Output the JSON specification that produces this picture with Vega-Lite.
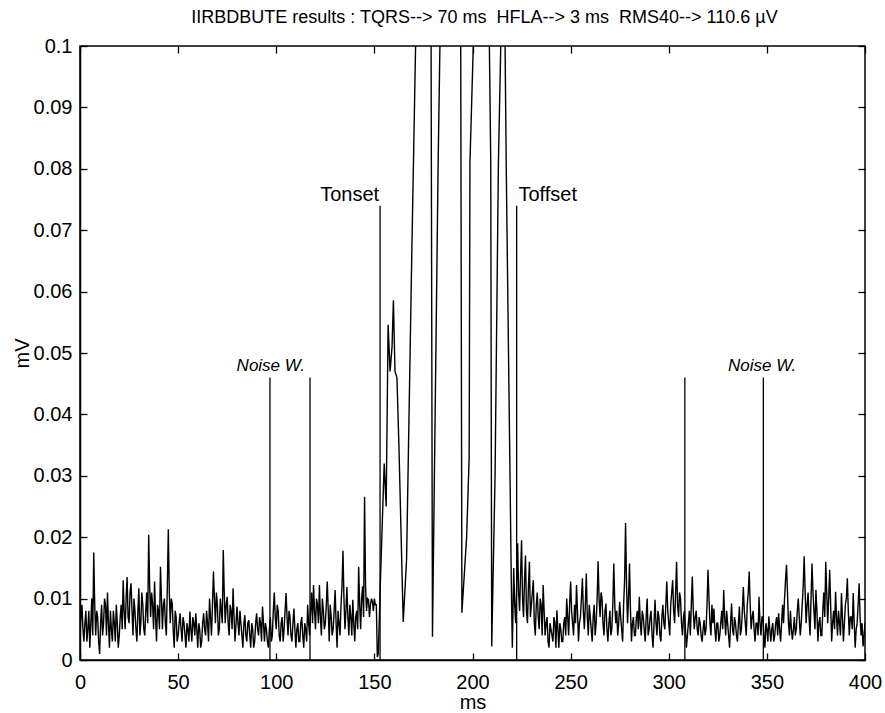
{
  "$schema": "https://vega.github.io/schema/vega-lite/v6.json",
  "width": 785,
  "height": 614,
  "autosize": "none",
  "padding": {"left": 80, "top": 46, "right": 20, "bottom": 53},
  "background": "white",
  "config": {
    "font": "Liberation Sans",
    "view": {"stroke": "black", "strokeWidth": 1.5},
    "axis": {
      "domainColor": "black", "domainWidth": 1.5, "tickColor": "black", "tickWidth": 1.3,
      "grid": false, "labelColor": "black", "labelFontSize": 20,
      "labelFont": "Liberation Sans", "titleFont": "Liberation Sans", "titleFontSize": 20,
      "titleFontWeight": "normal", "titleColor": "black"
    }
  },
  "title": {
    "text": "IIRBDBUTE results : TQRS--> 70 ms \u00a0HFLA--> 3 ms \u00a0RMS40--> 110.6 µV",
    "fontSize": 18, "fontWeight": "normal", "font": "Liberation Sans", "color": "black",
    "anchor": "middle", "offset": 9, "dx": 12
  },
  "datasets": {
    "signal": [
      {"t":0,"v":0.004},{"t":1,"v":0.009},{"t":2,"v":0.003},{"t":3,"v":0.008},{"t":4,"v":0.005},{"t":5,"v":0.002},{"t":6,"v":0.010},{"t":7,"v":0.0175},{"t":8,"v":0.004},{"t":9,"v":0.007},
      {"t":10,"v":0.001},{"t":11,"v":0.009},{"t":12,"v":0.006},{"t":13,"v":0.009},{"t":14,"v":0.011},{"t":15,"v":0.002},{"t":16,"v":0.005},{"t":17,"v":0.008},{"t":18,"v":0.003},{"t":19,"v":0.006},
      {"t":20,"v":0.004},{"t":21,"v":0.009},{"t":22,"v":0.013},{"t":23,"v":0.005},{"t":24,"v":0.0135},{"t":25,"v":0.006},{"t":26,"v":0.0125},{"t":27,"v":0.004},{"t":28,"v":0.008},{"t":29,"v":0.003},
      {"t":30,"v":0.0117},{"t":31,"v":0.006},{"t":32,"v":0.009},{"t":33,"v":0.004},{"t":34,"v":0.011},{"t":35,"v":0.0204},{"t":36,"v":0.007},{"t":37,"v":0.009},{"t":38,"v":0.0128},{"t":39,"v":0.003},
      {"t":40,"v":0.008},{"t":41,"v":0.0152},{"t":42,"v":0.005},{"t":43,"v":0.010},{"t":44,"v":0.004},{"t":45,"v":0.0213},{"t":46,"v":0.006},{"t":47,"v":0.0092},{"t":48,"v":0.002},{"t":49,"v":0.007},
      {"t":50,"v":0.004},{"t":51,"v":0.0076},{"t":52,"v":0.003},{"t":53,"v":0.006},{"t":54,"v":0.002},{"t":55,"v":0.005},{"t":56,"v":0.0079},{"t":57,"v":0.003},{"t":58,"v":0.006},{"t":59,"v":0.0076},
      {"t":60,"v":0.002},{"t":61,"v":0.005},{"t":62,"v":0.003},{"t":63,"v":0.0076},{"t":64,"v":0.004},{"t":65,"v":0.006},{"t":66,"v":0.010},{"t":67,"v":0.004},{"t":68,"v":0.0144},{"t":69,"v":0.006},
      {"t":70,"v":0.009},{"t":71,"v":0.005},{"t":72,"v":0.008},{"t":73,"v":0.0179},{"t":74,"v":0.006},{"t":75,"v":0.0103},{"t":76,"v":0.004},{"t":77,"v":0.008},{"t":78,"v":0.0117},{"t":79,"v":0.003},
      {"t":80,"v":0.0087},{"t":81,"v":0.004},{"t":82,"v":0.006},{"t":83,"v":0.002},{"t":84,"v":0.0073},{"t":85,"v":0.003},{"t":86,"v":0.0065},{"t":87,"v":0.002},{"t":88,"v":0.005},{"t":89,"v":0.003},
      {"t":90,"v":0.0076},{"t":91,"v":0.004},{"t":92,"v":0.006},{"t":93,"v":0.0087},{"t":94,"v":0.003},{"t":95,"v":0.005},{"t":96,"v":0.002},{"t":97,"v":0.007},{"t":98,"v":0.004},{"t":99,"v":0.011},
      {"t":100,"v":0.005},{"t":101,"v":0.008},{"t":102,"v":0.003},{"t":103,"v":0.007},{"t":104,"v":0.005},{"t":105,"v":0.0109},{"t":106,"v":0.004},{"t":107,"v":0.007},{"t":108,"v":0.003},{"t":109,"v":0.0084},
      {"t":110,"v":0.002},{"t":111,"v":0.006},{"t":112,"v":0.003},{"t":113,"v":0.007},{"t":114,"v":0.002},{"t":115,"v":0.005},{"t":116,"v":0.009},{"t":117,"v":0.004},{"t":118,"v":0.011},{"t":119,"v":0.0122},
      {"t":120,"v":0.005},{"t":121,"v":0.009},{"t":122,"v":0.0122},{"t":123,"v":0.004},{"t":124,"v":0.008},{"t":125,"v":0.006},{"t":126,"v":0.0128},{"t":127,"v":0.003},{"t":128,"v":0.007},{"t":129,"v":0.005},
      {"t":130,"v":0.0114},{"t":131,"v":0.002},{"t":132,"v":0.006},{"t":133,"v":0.009},{"t":134,"v":0.0178},{"t":135,"v":0.005},{"t":136,"v":0.0119},{"t":137,"v":0.004},{"t":138,"v":0.007},{"t":139,"v":0.0098},
      {"t":140,"v":0.003},{"t":141,"v":0.008},{"t":142,"v":0.0152},{"t":143,"v":0.005},{"t":144,"v":0.012},{"t":145,"v":0.0266},{"t":146,"v":0.008},{"t":147,"v":0.0098},{"t":148,"v":0.009},{"t":149,"v":0.0095},
      {"t":150,"v":0.010},{"t":151,"v":0.009},{"t":151.5,"v":0.0005},{"t":152,"v":0.001},{"t":153,"v":0.012},{"t":154,"v":0.022},{"t":155,"v":0.032},{"t":156,"v":0.025},{"t":157,"v":0.0546},{"t":158,"v":0.047},
      {"t":159,"v":0.051},{"t":159.7,"v":0.0586},{"t":160.5,"v":0.047},{"t":161.5,"v":0.046},{"t":162.5,"v":0.035},{"t":164.7,"v":0.0062},{"t":166.4,"v":0.0163},{"t":169,"v":0.065},{"t":171,"v":0.1},{"t":173,"v":0.5},
      {"t":176,"v":0.5},{"t":178.9,"v":0.1},{"t":179.6,"v":0.0038},{"t":182.5,"v":0.081},{"t":183.4,"v":0.1},{"t":186,"v":0.5},{"t":191,"v":0.5},{"t":194.0,"v":0.1},{"t":194.6,"v":0.0077},{"t":197,"v":0.02},
      {"t":198.3,"v":0.033},{"t":198.7,"v":0.081},{"t":200.4,"v":0.1},{"t":203,"v":0.5},{"t":206,"v":0.5},{"t":208.6,"v":0.1},{"t":209.3,"v":0.081},{"t":209.8,"v":0.0022},{"t":211.5,"v":0.03},{"t":213.2,"v":0.081},
      {"t":214.4,"v":0.1},{"t":215.5,"v":0.3},{"t":216.6,"v":0.1},{"t":217.2,"v":0.08},{"t":219,"v":0.033},{"t":219.8,"v":0.012},{"t":220.3,"v":0.002},{"t":221,"v":0.015},{"t":222,"v":0.006},{"t":223,"v":0.019},
      {"t":224,"v":0.008},{"t":225,"v":0.0195},{"t":226,"v":0.007},{"t":227,"v":0.017},{"t":228,"v":0.006},{"t":229,"v":0.016},{"t":230,"v":0.009},{"t":231,"v":0.013},{"t":232,"v":0.004},{"t":233,"v":0.011},
      {"t":234,"v":0.005},{"t":235,"v":0.009},{"t":236,"v":0.0122},{"t":237,"v":0.004},{"t":238,"v":0.007},{"t":239,"v":0.002},{"t":240,"v":0.005},{"t":241,"v":0.003},{"t":242,"v":0.006},{"t":243,"v":0.0081},
      {"t":244,"v":0.002},{"t":245,"v":0.005},{"t":246,"v":0.003},{"t":247,"v":0.007},{"t":248,"v":0.010},{"t":249,"v":0.004},{"t":250,"v":0.0128},{"t":251,"v":0.006},{"t":252,"v":0.009},{"t":253,"v":0.0122},
      {"t":254,"v":0.003},{"t":255,"v":0.007},{"t":256,"v":0.0133},{"t":257,"v":0.005},{"t":258,"v":0.0141},{"t":259,"v":0.004},{"t":260,"v":0.007},{"t":261,"v":0.003},{"t":262,"v":0.009},{"t":263,"v":0.006},
      {"t":264,"v":0.0161},{"t":265,"v":0.007},{"t":266,"v":0.010},{"t":267,"v":0.004},{"t":268,"v":0.0092},{"t":269,"v":0.003},{"t":270,"v":0.008},{"t":271,"v":0.005},{"t":272,"v":0.0157},{"t":273,"v":0.006},
      {"t":274,"v":0.004},{"t":275,"v":0.0095},{"t":276,"v":0.005},{"t":277,"v":0.009},{"t":278,"v":0.0223},{"t":279,"v":0.006},{"t":280,"v":0.0157},{"t":281,"v":0.003},{"t":282,"v":0.007},{"t":283,"v":0.004},
      {"t":284,"v":0.008},{"t":285,"v":0.0103},{"t":286,"v":0.004},{"t":287,"v":0.007},{"t":288,"v":0.003},{"t":289,"v":0.010},{"t":290,"v":0.005},{"t":291,"v":0.008},{"t":292,"v":0.002},{"t":293,"v":0.0098},
      {"t":294,"v":0.004},{"t":295,"v":0.007},{"t":296,"v":0.003},{"t":297,"v":0.009},{"t":298,"v":0.005},{"t":299,"v":0.0128},{"t":300,"v":0.006},{"t":301,"v":0.009},{"t":302,"v":0.013},{"t":303,"v":0.006},
      {"t":304,"v":0.016},{"t":305,"v":0.007},{"t":306,"v":0.010},{"t":307,"v":0.004},{"t":308,"v":0.008},{"t":309,"v":0.002},{"t":310,"v":0.006},{"t":311,"v":0.004},{"t":312,"v":0.0136},{"t":313,"v":0.005},
      {"t":314,"v":0.008},{"t":315,"v":0.004},{"t":316,"v":0.006},{"t":317,"v":0.003},{"t":318,"v":0.0065},{"t":319,"v":0.005},{"t":320,"v":0.0147},{"t":321,"v":0.006},{"t":322,"v":0.009},{"t":323,"v":0.0084},
      {"t":324,"v":0.003},{"t":325,"v":0.006},{"t":326,"v":0.004},{"t":327,"v":0.008},{"t":328,"v":0.0114},{"t":329,"v":0.004},{"t":330,"v":0.006},{"t":331,"v":0.002},{"t":332,"v":0.0092},{"t":333,"v":0.004},
      {"t":334,"v":0.006},{"t":335,"v":0.003},{"t":336,"v":0.0087},{"t":337,"v":0.005},{"t":338,"v":0.0119},{"t":339,"v":0.006},{"t":340,"v":0.009},{"t":341,"v":0.0144},{"t":342,"v":0.005},{"t":343,"v":0.008},
      {"t":344,"v":0.003},{"t":345,"v":0.006},{"t":346,"v":0.0103},{"t":347,"v":0.004},{"t":348,"v":0.007},{"t":349,"v":0.002},{"t":350,"v":0.005},{"t":351,"v":0.0071},{"t":352,"v":0.003},{"t":353,"v":0.006},
      {"t":354,"v":0.004},{"t":355,"v":0.007},{"t":356,"v":0.0076},{"t":357,"v":0.003},{"t":358,"v":0.009},{"t":359,"v":0.010},{"t":360,"v":0.0155},{"t":361,"v":0.006},{"t":362,"v":0.008},{"t":363,"v":0.0033},
      {"t":364,"v":0.007},{"t":365,"v":0.005},{"t":366,"v":0.010},{"t":367,"v":0.004},{"t":368,"v":0.009},{"t":369,"v":0.0169},{"t":370,"v":0.006},{"t":371,"v":0.011},{"t":372,"v":0.004},{"t":373,"v":0.0157},
      {"t":374,"v":0.008},{"t":375,"v":0.0114},{"t":376,"v":0.003},{"t":377,"v":0.007},{"t":378,"v":0.004},{"t":379,"v":0.011},{"t":380,"v":0.016},{"t":381,"v":0.006},{"t":382,"v":0.0147},{"t":383,"v":0.003},
      {"t":384,"v":0.008},{"t":385,"v":0.0111},{"t":386,"v":0.004},{"t":387,"v":0.006},{"t":388,"v":0.0109},{"t":389,"v":0.003},{"t":390,"v":0.009},{"t":391,"v":0.0133},{"t":392,"v":0.004},{"t":393,"v":0.007},
      {"t":394,"v":0.0109},{"t":395,"v":0.002},{"t":396,"v":0.006},{"t":397,"v":0.0125},{"t":398,"v":0.004},{"t":399,"v":0.0022},{"t":400,"v":0.006},
      {"t":0.5,"v":0.007},{"t":1.5,"v":0.005},{"t":2.5,"v":0.006},{"t":3.5,"v":0.003},{"t":4.5,"v":0.008},{"t":5.5,"v":0.006},{"t":6.5,"v":0.004},{"t":7.5,"v":0.009},{"t":8.5,"v":0.008},{"t":9.5,"v":0.003},
      {"t":10.5,"v":0.006},{"t":11.5,"v":0.004},{"t":12.5,"v":0.010},{"t":13.5,"v":0.004},{"t":14.5,"v":0.006},{"t":15.5,"v":0.008},{"t":16.5,"v":0.003},{"t":17.5,"v":0.006},{"t":18.5,"v":0.009},{"t":19.5,"v":0.002},
      {"t":20.5,"v":0.007},{"t":21.5,"v":0.005},{"t":22.5,"v":0.008},{"t":23.5,"v":0.010},{"t":24.5,"v":0.007},{"t":25.5,"v":0.011},{"t":26.5,"v":0.008},{"t":27.5,"v":0.010},{"t":28.5,"v":0.005},{"t":29.5,"v":0.008},
      {"t":30.5,"v":0.004},{"t":31.5,"v":0.011},{"t":32.5,"v":0.005},{"t":33.5,"v":0.008},{"t":34.5,"v":0.006},{"t":35.5,"v":0.012},{"t":36.5,"v":0.011},{"t":37.5,"v":0.005},{"t":38.5,"v":0.007},{"t":39.5,"v":0.009},
      {"t":40.5,"v":0.005},{"t":41.5,"v":0.010},{"t":42.5,"v":0.009},{"t":43.5,"v":0.006},{"t":44.5,"v":0.012},{"t":45.5,"v":0.011},{"t":46.5,"v":0.010},{"t":47.5,"v":0.005},{"t":48.5,"v":0.008},{"t":49.5,"v":0.003},
      {"t":50.5,"v":0.006},{"t":51.5,"v":0.005},{"t":52.5,"v":0.007},{"t":53.5,"v":0.004},{"t":54.5,"v":0.006},{"t":55.5,"v":0.003},{"t":56.5,"v":0.005},{"t":57.5,"v":0.007},{"t":58.5,"v":0.004},{"t":59.5,"v":0.005},
      {"t":60.5,"v":0.006},{"t":61.5,"v":0.002},{"t":62.5,"v":0.006},{"t":63.5,"v":0.005},{"t":64.5,"v":0.008},{"t":65.5,"v":0.003},{"t":66.5,"v":0.007},{"t":67.5,"v":0.009},{"t":68.5,"v":0.010},{"t":69.5,"v":0.011},
      {"t":70.5,"v":0.004},{"t":71.5,"v":0.010},{"t":72.5,"v":0.006},{"t":73.5,"v":0.011},{"t":74.5,"v":0.009},{"t":75.5,"v":0.006},{"t":76.5,"v":0.009},{"t":77.5,"v":0.005},{"t":78.5,"v":0.007},{"t":79.5,"v":0.006},
      {"t":80.5,"v":0.006},{"t":81.5,"v":0.008},{"t":82.5,"v":0.004},{"t":83.5,"v":0.006},{"t":84.5,"v":0.004},{"t":85.5,"v":0.006},{"t":86.5,"v":0.004},{"t":87.5,"v":0.006},{"t":88.5,"v":0.002},{"t":89.5,"v":0.006},
      {"t":90.5,"v":0.005},{"t":91.5,"v":0.007},{"t":92.5,"v":0.003},{"t":93.5,"v":0.006},{"t":94.5,"v":0.006},{"t":95.5,"v":0.003},{"t":96.5,"v":0.005},{"t":97.5,"v":0.003},{"t":98.5,"v":0.008},{"t":99.5,"v":0.007},
      {"t":100.5,"v":0.009},{"t":101.5,"v":0.004},{"t":102.5,"v":0.006},{"t":103.5,"v":0.003},{"t":104.5,"v":0.008},{"t":105.5,"v":0.007},{"t":106.5,"v":0.008},{"t":107.5,"v":0.004},{"t":108.5,"v":0.006},{"t":109.5,"v":0.005},
      {"t":110.5,"v":0.005},{"t":111.5,"v":0.003},{"t":112.5,"v":0.006},{"t":113.5,"v":0.004},{"t":114.5,"v":0.006},{"t":115.5,"v":0.003},{"t":116.5,"v":0.006},{"t":117.5,"v":0.008},{"t":118.5,"v":0.006},{"t":119.5,"v":0.008},
      {"t":120.5,"v":0.010},{"t":121.5,"v":0.006},{"t":122.5,"v":0.007},{"t":123.5,"v":0.010},{"t":124.5,"v":0.005},{"t":125.5,"v":0.009},{"t":126.5,"v":0.008},{"t":127.5,"v":0.009},{"t":128.5,"v":0.004},{"t":129.5,"v":0.008},
      {"t":130.5,"v":0.006},{"t":131.5,"v":0.008},{"t":132.5,"v":0.004},{"t":133.5,"v":0.012},{"t":134.5,"v":0.010},{"t":135.5,"v":0.008},{"t":136.5,"v":0.007},{"t":137.5,"v":0.009},{"t":138.5,"v":0.004},{"t":139.5,"v":0.006},
      {"t":140.5,"v":0.007},{"t":141.5,"v":0.005},{"t":142.5,"v":0.009},{"t":143.5,"v":0.010},{"t":144.5,"v":0.007},{"t":145.5,"v":0.012},{"t":146.5,"v":0.010},{"t":147.5,"v":0.007},{"t":148.5,"v":0.010},{"t":149.5,"v":0.008},
      {"t":150.5,"v":0.009},
      {"t":221.5,"v":0.009},{"t":222.5,"v":0.012},{"t":223.5,"v":0.011},{"t":224.5,"v":0.014},{"t":225.5,"v":0.010},{"t":226.5,"v":0.013},{"t":227.5,"v":0.008},{"t":228.5,"v":0.012},{"t":229.5,"v":0.007},
      {"t":230.5,"v":0.011},{"t":231.5,"v":0.006},{"t":232.5,"v":0.009},{"t":233.5,"v":0.007},{"t":234.5,"v":0.010},{"t":235.5,"v":0.004},{"t":236.5,"v":0.008},{"t":237.5,"v":0.006},{"t":238.5,"v":0.003},{"t":239.5,"v":0.006},
      {"t":240.5,"v":0.004},{"t":241.5,"v":0.007},{"t":242.5,"v":0.002},{"t":243.5,"v":0.005},{"t":244.5,"v":0.006},{"t":245.5,"v":0.003},{"t":246.5,"v":0.006},{"t":247.5,"v":0.004},{"t":248.5,"v":0.007},{"t":249.5,"v":0.009},
      {"t":250.5,"v":0.008},{"t":251.5,"v":0.004},{"t":252.5,"v":0.006},{"t":253.5,"v":0.008},{"t":254.5,"v":0.006},{"t":255.5,"v":0.010},{"t":256.5,"v":0.008},{"t":257.5,"v":0.009},{"t":258.5,"v":0.007},{"t":259.5,"v":0.009},
      {"t":260.5,"v":0.005},{"t":261.5,"v":0.007},{"t":262.5,"v":0.004},{"t":263.5,"v":0.010},{"t":264.5,"v":0.010},{"t":265.5,"v":0.011},{"t":266.5,"v":0.006},{"t":267.5,"v":0.008},{"t":268.5,"v":0.005},{"t":269.5,"v":0.006},
      {"t":270.5,"v":0.004},{"t":271.5,"v":0.009},{"t":272.5,"v":0.009},{"t":273.5,"v":0.008},{"t":274.5,"v":0.006},{"t":275.5,"v":0.007},{"t":276.5,"v":0.003},{"t":277.5,"v":0.013},{"t":278.5,"v":0.012},{"t":279.5,"v":0.010},
      {"t":280.5,"v":0.008},{"t":281.5,"v":0.006},{"t":282.5,"v":0.004},{"t":283.5,"v":0.007},{"t":284.5,"v":0.005},{"t":285.5,"v":0.006},{"t":286.5,"v":0.008},{"t":287.5,"v":0.005},{"t":288.5,"v":0.007},{"t":289.5,"v":0.004},
      {"t":290.5,"v":0.007},{"t":291.5,"v":0.004},{"t":292.5,"v":0.006},{"t":293.5,"v":0.006},{"t":294.5,"v":0.008},{"t":295.5,"v":0.004},{"t":296.5,"v":0.007},{"t":297.5,"v":0.006},{"t":298.5,"v":0.009},{"t":299.5,"v":0.008},
      {"t":300.5,"v":0.004},{"t":301.5,"v":0.011},{"t":302.5,"v":0.008},{"t":303.5,"v":0.011},{"t":304.5,"v":0.009},{"t":305.5,"v":0.011},{"t":306.5,"v":0.006},{"t":307.5,"v":0.007},{"t":308.5,"v":0.005},{"t":309.5,"v":0.004},
      {"t":310.5,"v":0.008},{"t":311.5,"v":0.009},{"t":312.5,"v":0.008},{"t":313.5,"v":0.007},{"t":314.5,"v":0.005},{"t":315.5,"v":0.007},{"t":316.5,"v":0.004},{"t":317.5,"v":0.005},{"t":318.5,"v":0.004},{"t":319.5,"v":0.009},
      {"t":320.5,"v":0.010},{"t":321.5,"v":0.004},{"t":322.5,"v":0.006},{"t":323.5,"v":0.005},{"t":324.5,"v":0.006},{"t":325.5,"v":0.003},{"t":326.5,"v":0.006},{"t":327.5,"v":0.005},{"t":328.5,"v":0.007},{"t":329.5,"v":0.008},
      {"t":330.5,"v":0.004},{"t":331.5,"v":0.006},{"t":332.5,"v":0.005},{"t":333.5,"v":0.007},{"t":334.5,"v":0.004},{"t":335.5,"v":0.006},{"t":336.5,"v":0.004},{"t":337.5,"v":0.008},{"t":338.5,"v":0.008},{"t":339.5,"v":0.004},
      {"t":340.5,"v":0.011},{"t":341.5,"v":0.009},{"t":342.5,"v":0.007},{"t":343.5,"v":0.005},{"t":344.5,"v":0.006},{"t":345.5,"v":0.004},{"t":346.5,"v":0.006},{"t":347.5,"v":0.007},{"t":348.5,"v":0.004},{"t":349.5,"v":0.006},
      {"t":350.5,"v":0.003},{"t":351.5,"v":0.005},{"t":352.5,"v":0.005},{"t":353.5,"v":0.003},{"t":354.5,"v":0.006},{"t":355.5,"v":0.004},{"t":356.5,"v":0.005},{"t":357.5,"v":0.006},{"t":358.5,"v":0.006},{"t":359.5,"v":0.013},
      {"t":360.5,"v":0.011},{"t":361.5,"v":0.004},{"t":362.5,"v":0.005},{"t":363.5,"v":0.005},{"t":364.5,"v":0.004},{"t":365.5,"v":0.008},{"t":366.5,"v":0.007},{"t":367.5,"v":0.006},{"t":368.5,"v":0.012},{"t":369.5,"v":0.011},
      {"t":370.5,"v":0.009},{"t":371.5,"v":0.007},{"t":372.5,"v":0.010},{"t":373.5,"v":0.011},{"t":374.5,"v":0.005},{"t":375.5,"v":0.008},{"t":376.5,"v":0.006},{"t":377.5,"v":0.004},{"t":378.5,"v":0.008},{"t":379.5,"v":0.007},
      {"t":380.5,"v":0.011},{"t":381.5,"v":0.010},{"t":382.5,"v":0.009},{"t":383.5,"v":0.006},{"t":384.5,"v":0.005},{"t":385.5,"v":0.007},{"t":386.5,"v":0.008},{"t":387.5,"v":0.004},{"t":388.5,"v":0.007},{"t":389.5,"v":0.006},
      {"t":390.5,"v":0.010},{"t":391.5,"v":0.008},{"t":392.5,"v":0.007},{"t":393.5,"v":0.005},{"t":394.5,"v":0.006},{"t":395.5,"v":0.005},{"t":396.5,"v":0.009},{"t":397.5,"v":0.007},{"t":398.5,"v":0.006},{"t":399.5,"v":0.004}
    ],
    "markers": [
      {"t":96.8,"lo":0,"hi":0.046},
      {"t":117.2,"lo":0,"hi":0.046},
      {"t":152.9,"lo":0,"hi":0.074},
      {"t":222.5,"lo":0,"hi":0.074},
      {"t":308.2,"lo":0,"hi":0.046},
      {"t":348.2,"lo":0,"hi":0.046}
    ],
    "labels": [
      {"t":79.8,"v":0.0471,"label":"Noise W.","kind":"noise"},
      {"t":330.2,"v":0.0471,"label":"Noise W.","kind":"noise"},
      {"t":152.4,"v":0.0748,"label":"Tonset","kind":"on"},
      {"t":223.4,"v":0.0748,"label":"Toffset","kind":"off"}
    ]
  },
  "resolve": {"axis": {"x": "independent", "y": "independent"}},
  "layer": [
    {
      "data": {"name": "signal"},
      "mark": {"type": "line", "color": "black", "strokeWidth": 1.4, "clip": true, "interpolate": "linear"},
      "encoding": {
        "x": {"field": "t", "type": "quantitative", "sort": null,
              "scale": {"domain": [0, 400], "nice": false, "zero": false},
              "axis": {"orient": "bottom", "title": "ms", "ticks": false, "values": [0,50,100,150,200,250,300,350,400], "labelPadding": 12, "titlePadding": 0, "labelFlush": false}},
        "y": {"field": "v", "type": "quantitative",
              "scale": {"domain": [0, 0.1], "nice": false, "zero": false},
              "axis": {"orient": "left", "title": "mV", "ticks": false, "values": [0,0.01,0.02,0.03,0.04,0.05,0.06,0.07,0.08,0.09,0.1], "labelPadding": 8, "titlePadding": 1, "labelFlush": false, "labelExpr": "datum.value == 0 ? '0' : format(datum.value, '.2~f')"}},
        "order": {"field": "t", "type": "quantitative"}
      }
    },
    {
      "data": {"name": "markers"},
      "mark": {"type": "rule", "color": "black", "strokeWidth": 1.3},
      "encoding": {
        "x": {"field": "t", "type": "quantitative", "axis": null},
        "y": {"field": "lo", "type": "quantitative", "axis": null},
        "y2": {"field": "hi"}
      }
    },
    {
      "data": {"name": "labels"},
      "transform": [{"filter": "datum.kind == 'noise'"}],
      "mark": {"type": "text", "align": "left", "baseline": "alphabetic", "fontSize": 17, "fontStyle": "italic", "color": "black", "font": "Liberation Sans"},
      "encoding": {
        "x": {"field": "t", "type": "quantitative", "axis": null},
        "y": {"field": "v", "type": "quantitative", "axis": null},
        "text": {"field": "label"}
      }
    },
    {
      "data": {"name": "labels"},
      "transform": [{"filter": "datum.kind == 'on'"}],
      "mark": {"type": "text", "align": "right", "baseline": "alphabetic", "fontSize": 20, "color": "black", "font": "Liberation Sans"},
      "encoding": {
        "x": {"field": "t", "type": "quantitative", "axis": null},
        "y": {"field": "v", "type": "quantitative", "axis": null},
        "text": {"field": "label"}
      }
    },
    {
      "data": {"name": "labels"},
      "transform": [{"filter": "datum.kind == 'off'"}],
      "mark": {"type": "text", "align": "left", "baseline": "alphabetic", "fontSize": 20, "color": "black", "font": "Liberation Sans"},
      "encoding": {
        "x": {"field": "t", "type": "quantitative", "axis": null},
        "y": {"field": "v", "type": "quantitative", "axis": null},
        "text": {"field": "label"}
      }
    },
    {
      "data": {"name": "markers"},
      "mark": {"type": "point", "opacity": 0},
      "encoding": {
        "x": {"field": "t", "type": "quantitative",
              "axis": {"orient": "top", "title": null, "labels": false, "domain": false, "ticks": true, "tickSize": 7, "offset": -7, "values": [0,50,100,150,200,250,300,350,400]}},
        "y": {"field": "hi", "type": "quantitative",
              "axis": {"orient": "right", "title": null, "labels": false, "domain": false, "ticks": true, "tickSize": 7, "offset": -7, "values": [0,0.01,0.02,0.03,0.04,0.05,0.06,0.07,0.08,0.09,0.1]}}
      }
    },
    {
      "data": {"name": "markers"},
      "mark": {"type": "point", "opacity": 0},
      "encoding": {
        "x": {"field": "t", "type": "quantitative",
              "axis": {"orient": "bottom", "title": null, "labels": false, "domain": false, "ticks": true, "tickSize": 7, "offset": -7, "values": [0,50,100,150,200,250,300,350,400]}},
        "y": {"field": "hi", "type": "quantitative",
              "axis": {"orient": "left", "title": null, "labels": false, "domain": false, "ticks": true, "tickSize": 7, "offset": -7, "values": [0,0.01,0.02,0.03,0.04,0.05,0.06,0.07,0.08,0.09,0.1]}}
      }
    }
  ]
}
